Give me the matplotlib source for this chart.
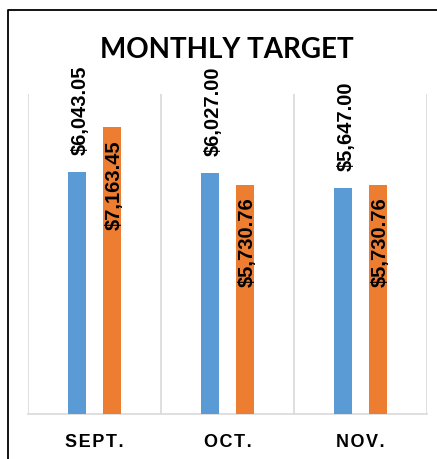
import matplotlib
matplotlib.use("Agg")
import matplotlib.pyplot as plt
import numpy as np

# chart values
months = ["SEPT.", "OCT.", "NOV."]
actual = [6043.05, 6027.00, 5647.00]
target = [7163.45, 5730.76, 5730.76]

blue = "#5B9BD5"
orange = "#ED7D31"
grid = "#D9D9D9"


def spaced(s):
    # Excel-style letter spacing on the category labels
    return "\u200a".join(s)


fig = plt.figure(figsize=(4.37, 4.60), dpi=100)
ax = fig.add_axes([28 / 437, 1 - 415 / 460, 399 / 437, 320 / 460])

x = np.arange(len(months))
w = 0.137
off = 0.13
b1 = ax.bar(x - off, actual, w, color=blue, zorder=3)
b2 = ax.bar(x + off, target, w, color=orange, zorder=3)

lab_font = dict(family=["Liberation Sans", "DejaVu Sans"], weight="bold", size=14.5)
for rect, v in zip(b1, actual):
    ax.annotate("${:,.2f}".format(v), (rect.get_x() + rect.get_width() / 2, v),
                xytext=(2, 13), textcoords="offset points",
                rotation=90, ha="center", va="bottom", **lab_font)
for rect, v in zip(b2, target):
    ax.annotate("${:,.2f}".format(v), (rect.get_x() + rect.get_width() / 2, v),
                xytext=(1.5, -8.5), textcoords="offset points",
                rotation=90, ha="center", va="top", **lab_font)

ax.set_xlim(-0.5, 2.5)
ax.set_ylim(0, 8000)
ax.set_yticks([])
ax.set_xticks(x)
ax.set_xticklabels([spaced(m) for m in months], family=["Liberation Sans", "DejaVu Sans"],
                   weight="bold", size=13)
ax.tick_params(axis="x", length=0, pad=14)

# category separators
for xb in [-0.5, 0.5, 1.5, 2.5]:
    ax.axvline(xb, color=grid, lw=1.2, zorder=1)
for s in ["top", "left", "right"]:
    ax.spines[s].set_visible(False)
ax.spines["bottom"].set_color(grid)
ax.spines["bottom"].set_linewidth(1.2)

fig.text(227 / 437, 1 - 50 / 460, "MONTHLY TARGET", ha="center", va="center",
         family=["Lato", "DejaVu Sans"], weight="bold", size=20)

# frame around the chart (left and top edges visible)
fig.add_artist(plt.Line2D([8 / 437, 8 / 437, 1], [0, 1 - 11 / 460, 1 - 11 / 460],
                          transform=fig.transFigure, color="black", lw=1.3))

fig.savefig("out.png", dpi=100)
